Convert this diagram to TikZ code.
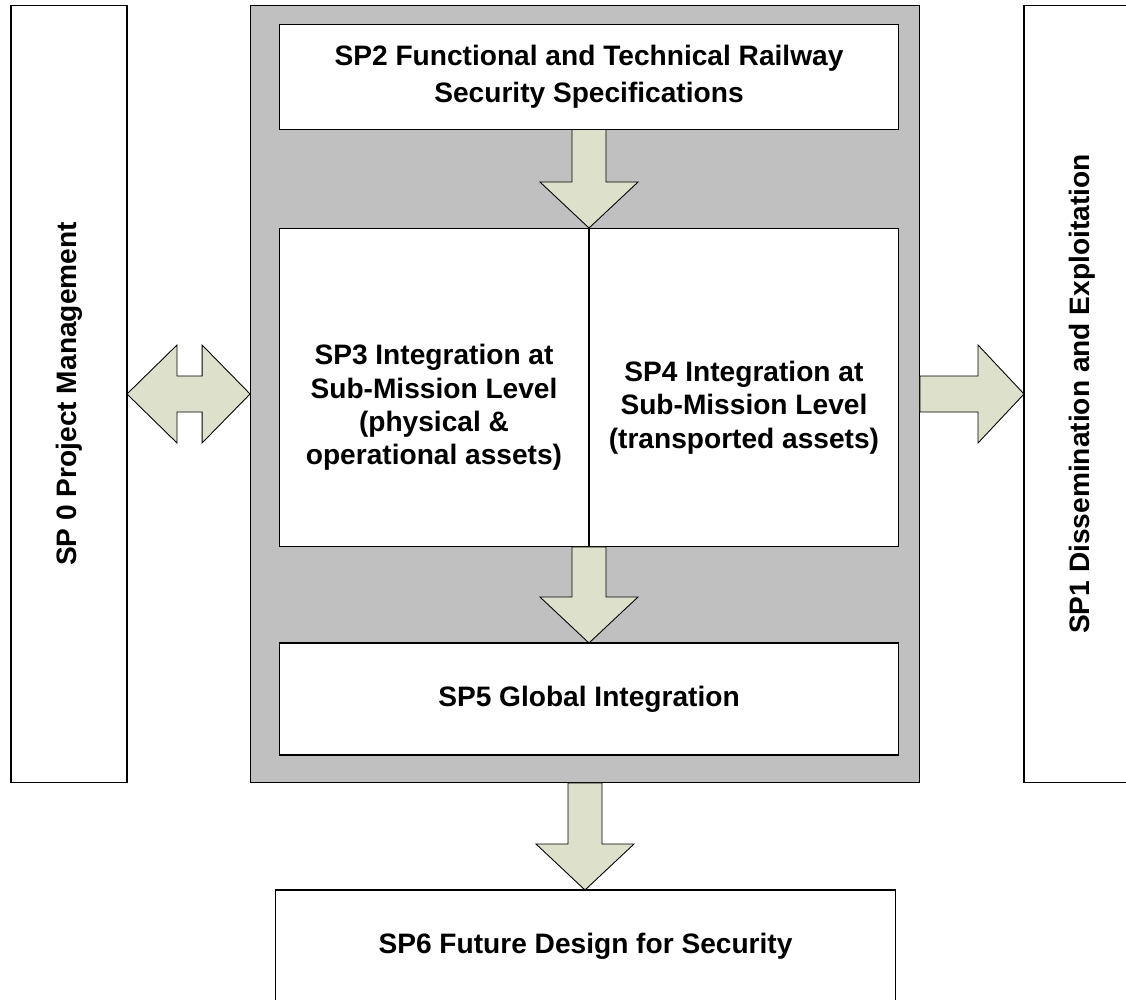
\documentclass[tikz,border=0pt]{standalone}
\usepackage{fontspec}
\setmainfont{Liberation Sans}
\usetikzlibrary{calc}
\usetikzlibrary{positioning}
\definecolor{framegray}{RGB}{192,192,192}
\definecolor{arrowgreen}{RGB}{221,224,203}

% block arrow pointing down: #1 start of shaft, #2 tip
\newcommand{\blockdown}[2]{%
  \draw[blockarrow] ($(#1)+(-17,0)$) -- ($(#2)+(-17,-46)$) -- ($(#2)+(-49,-46)$) -- (#2)
    -- ($(#2)+(49,-46)$) -- ($(#2)+(17,-46)$) -- ($(#1)+(17,0)$) -- cycle;}

\begin{document}
\begin{tikzpicture}[x=0.02cm,y=-0.02cm,font=\fontsize{16}{19}\selectfont\bfseries,line width=0.6pt]
	\tikzstyle{spbox}=[draw, fill=white, align=center, inner sep=0pt, outer sep=0pt]
	\tikzstyle{sidebox}=[spbox, minimum width=2.32cm, minimum height=15.56cm]
	\tikzstyle{wide}=[spbox, minimum width=12.4cm]
	\tikzstyle{half}=[spbox, minimum width=6.2cm, minimum height=6.38cm]
	\tikzstyle{blockarrow}=[draw, fill=arrowgreen, line width=0.5pt, line join=miter]
	\useasboundingbox (0,0) rectangle (1126,1000);
	\clip (0,0) rectangle (1126,1000);

	\node[sidebox] (sp0) at (69,394) {};
	\node[rotate=90] (sp0text) at (sp0) {SP 0 Project Management};
	\node[spbox, fill=framegray, minimum width=13.4cm, minimum height=15.56cm] (frame) at (585,394) {};
	\node[sidebox] (sp1) at (1082,394) {};
	\node[rotate=90] (sp1text) at (sp1) {SP1 Dissemination and Exploitation};

	\node[wide, minimum height=2.1cm] (sp2) at (589,77) {SP2 Functional and Technical Railway\\[2pt]Security Specifications};
	\node[half] (sp3) at (434,387.5) {};
	\node[half, right=0pt of sp3] (sp4) {};
	\node[align=center] (sp3text) at ($(sp3)+(0,20)$) {SP3 Integration at\\Sub-Mission Level\\(physical \&\\operational assets)};
	\node[align=center] (sp4text) at ($(sp4)+(0,20)$) {SP4 Integration at\\Sub-Mission Level\\(transported assets)};
	\node[wide, minimum height=2.24cm] (sp5) at (589,699) {SP5 Global Integration};
	\node[spbox, minimum width=12.42cm, minimum height=2.24cm] (sp6) at (585.5,946) {SP6 Future Design for Security};

	% arrows between the blocks
	\coordinate (tip1) at (sp2.south |- sp3.north east);
	\coordinate (tip2) at (sp3.south east |- sp5.north);
	\coordinate (tip3) at (frame.south |- sp6.north);
	\blockdown{sp2.south}{tip1}
	\blockdown{sp3.south east}{tip2}
	\blockdown{frame.south}{tip3}

	\coordinate (tip4) at (frame.east -| sp1.west);
	\draw[blockarrow] ($(frame.east)+(0,-18)$) -- ($(tip4)+(-46,-18)$) -- ($(tip4)+(-46,-49)$) -- (tip4)
		-- ($(tip4)+(-46,49)$) -- ($(tip4)+(-46,18)$) -- ($(frame.east)+(0,18)$) -- cycle;
	\draw[blockarrow] (sp0.east) -- ($(sp0.east)+(50,-49)$) -- ($(sp0.east)+(50,-18)$) -- ($(frame.west)+(-48,-18)$)
		-- ($(frame.west)+(-48,-49)$) -- (frame.west) -- ($(frame.west)+(-48,49)$) -- ($(frame.west)+(-48,18)$)
		-- ($(sp0.east)+(50,18)$) -- ($(sp0.east)+(50,49)$) -- cycle;
\end{tikzpicture}
\end{document}
